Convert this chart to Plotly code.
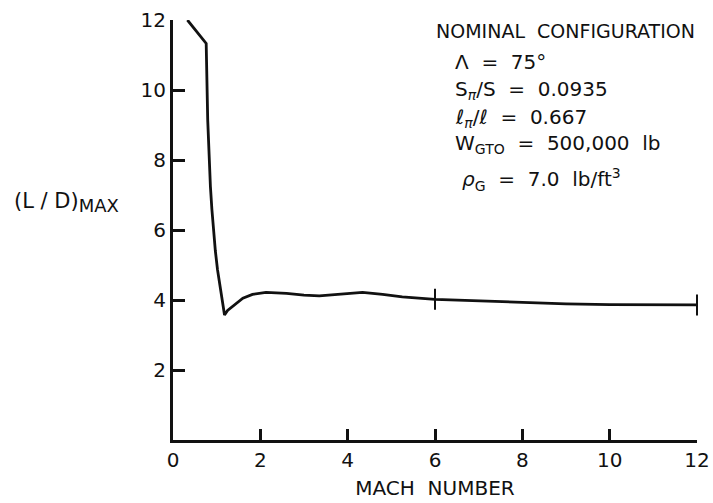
import plotly.graph_objects as go

# Maximum lift-to-drag ratio versus Mach number, nominal configuration
mach = [0.33, 0.76, 0.795, 0.83, 0.857, 0.89, 0.926, 0.97, 1.02, 1.07, 1.12, 1.18,
        1.25, 1.37, 1.50, 1.60, 1.82, 2.13, 2.60, 3.00, 3.35, 3.81, 4.10, 4.34,
        4.80, 5.25, 6.00, 7.00, 8.00, 9.00, 10.0, 11.0, 12.0]
ld_max = [12.0, 11.33, 9.14, 8.00, 7.24, 6.60, 6.00, 5.40, 4.86, 4.45, 4.05, 3.57,
          3.70, 3.82, 3.97, 4.05, 4.16, 4.22, 4.19, 4.14, 4.12, 4.17, 4.21, 4.22,
          4.16, 4.09, 4.02, 3.97, 3.93, 3.89, 3.87, 3.87, 3.86]

# Stations marked with a short vertical stroke on the curve
marked_mach = [6.0, 12.0]

x_ticks = [0, 2, 4, 6, 8, 10, 12]
y_ticks = [2, 4, 6, 8, 10, 12]

config_title = "NOMINAL  CONFIGURATION"
config_lines = [
    "\u039b  =  75\u00b0",
    "S<sub><i>\u03c0</i></sub>/S  =  0.0935",
    "\u2113<sub><i>\u03c0</i></sub>/\u2113  =  0.667",
    "W<sub>GTO</sub>  =  500,000  lb",
    "<i>\u03c1</i><sub>G</sub>  =  7.0  lb/ft<sup>3</sup>",
]
config_y = [10.8, 10.0, 9.2, 8.45, 7.45]
config_x = [0.535, 0.535, 0.535, 0.535, 0.548]

FONT = "DejaVu Sans"
INK = "#111111"

fig = go.Figure()
fig.add_trace(go.Scatter(
    x=mach, y=ld_max, mode="lines",
    line=dict(color=INK, width=2.8),
    hoverinfo="skip", showlegend=False,
))
marked_ld = [ld_max[mach.index(m)] for m in marked_mach]
fig.add_trace(go.Scatter(
    x=marked_mach, y=marked_ld, mode="markers",
    marker=dict(symbol="line-ns", size=15, line=dict(color=INK, width=2)),
    cliponaxis=False, hoverinfo="skip", showlegend=False,
))

axis_common = dict(
    showline=True, linecolor=INK, linewidth=3,
    ticks="inside", tickcolor=INK, tickwidth=2.5,
    showgrid=False, zeroline=False, automargin=False,
    tickfont=dict(family=FONT, size=20, color=INK),
)
fig.update_xaxes(range=[0, 12], tickvals=x_ticks, ticklen=11,
                 title=dict(text="MACH  NUMBER", font=dict(family=FONT, size=20, color=INK),
                            standoff=10),
                 **axis_common)
fig.update_yaxes(range=[0, 12], tickvals=y_ticks, ticklen=12, **axis_common)

ann = []
ann.append(dict(text='(L / D)<sub><span style="font-size:18px">MAX</span></sub>',
                x=-0.308, y=6.8, xref="paper", yref="y",
                xanchor="left", yanchor="middle", showarrow=False,
                font=dict(family=FONT, size=21, color=INK)))
ann.append(dict(text=config_title, x=1.0, y=11.69, xref="paper", yref="y",
                xanchor="right", yanchor="middle", showarrow=False,
                font=dict(family=FONT, size=19, color=INK)))
for txt, xx, yy in zip(config_lines, config_x, config_y):
    ann.append(dict(text=txt, x=xx, y=yy, xref="paper", yref="y",
                    xanchor="left", yanchor="middle", showarrow=False,
                    font=dict(family=FONT, size=20, color=INK)))

fig.update_layout(
    width=713, height=503,
    margin=dict(l=173, r=16, t=20, b=63),
    paper_bgcolor="white", plot_bgcolor="white",
    annotations=ann,
)

fig.write_html("out.html")
